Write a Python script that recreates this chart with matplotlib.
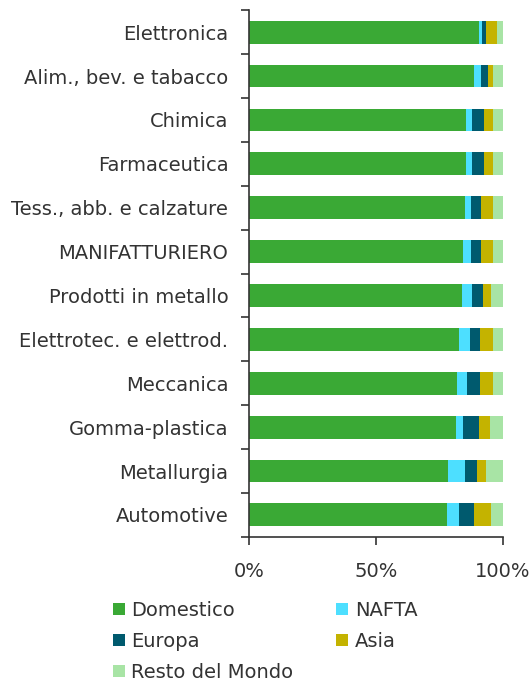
import numpy as np
import matplotlib.pyplot as plt
from matplotlib.ticker import FixedLocator, NullFormatter

plt.rcParams['font.family'] = ['DejaVu Sans']

categories = ["Elettronica", "Alim., bev. e tabacco", "Chimica", "Farmaceutica",
              "Tess., abb. e calzature", "MANIFATTURIERO", "Prodotti in metallo",
              "Elettrotec. e elettrod.", "Meccanica", "Gomma-plastica",
              "Metallurgia", "Automotive"]
domestico = [90.6, 88.5, 85.5, 85.5, 85.1, 84.3, 83.9, 82.8, 81.9, 81.4, 78.4, 77.8]
nafta = [1.3, 3.0, 2.4, 2.4, 2.3, 3.1, 4.0, 4.1, 4.1, 3.0, 6.5, 5.0]
europa = [1.5, 2.5, 4.6, 4.6, 4.1, 4.1, 4.1, 4.1, 5.0, 6.0, 5.0, 5.7]
asia = [4.1, 2.1, 3.6, 3.6, 4.6, 4.6, 3.4, 5.1, 5.1, 4.6, 3.5, 6.9]
resto = [2.5, 3.9, 3.9, 3.9, 3.9, 3.9, 4.6, 3.9, 3.9, 5.0, 6.6, 4.6]

series = [("Domestico", domestico, "#3aa935"),
          ("NAFTA", nafta, "#4ddfff"),
          ("Europa", europa, "#005a6e"),
          ("Asia", asia, "#c4b300"),
          ("Resto del Mondo", resto, "#a8e4a5")]

fig = plt.figure(figsize=(5.3, 6.83), dpi=100)
ax = fig.add_axes([0.470, 0.214, 0.479, 0.771])

y = np.arange(len(categories))
left = np.zeros(len(categories))
for name, vals, col in series:
    vals = np.array(vals)
    ax.barh(y, vals, left=left, height=0.52, color=col, label=name)
    left += vals

txt = "#333333"
ax.set_ylim(len(categories) - 0.5, -0.5)
ax.set_xlim(0, 100)
ax.set_yticks(y)
ax.set_yticklabels(categories, fontsize=14, color=txt)
ax.tick_params(axis='y', length=0, pad=15)
ax.yaxis.set_minor_locator(FixedLocator(np.arange(-0.5, len(categories), 1)))
ax.yaxis.set_minor_formatter(NullFormatter())
ax.tick_params(axis='y', which='minor', length=6, width=1.2, color="#333333")

ax.set_xticks([0, 50, 100])
ax.set_xticklabels(["0%", "50%", "100%"], fontsize=14, color=txt)
ax.tick_params(axis='x', length=6, width=1.2, color="#333333", pad=12)

for s in ['top', 'right']:
    ax.spines[s].set_visible(False)
for s in ['left', 'bottom']:
    ax.spines[s].set_linewidth(1.2)
    ax.spines[s].set_color("#333333")

# row-major legend order like the original
h, l = ax.get_legend_handles_labels()
order = [0, 2, 4, 1, 3]
leg = ax.legend([h[i] for i in order], [l[i] for i in order],
                loc='upper left', bbox_to_anchor=(-0.605, -0.088), ncol=2, frameon=False,
                fontsize=14, handlelength=0.6, handleheight=0.6, handletextpad=0.35,
                columnspacing=2.2, labelspacing=0.63)
for t in leg.get_texts():
    t.set_color(txt)

fig.savefig("out.png", dpi=100)
